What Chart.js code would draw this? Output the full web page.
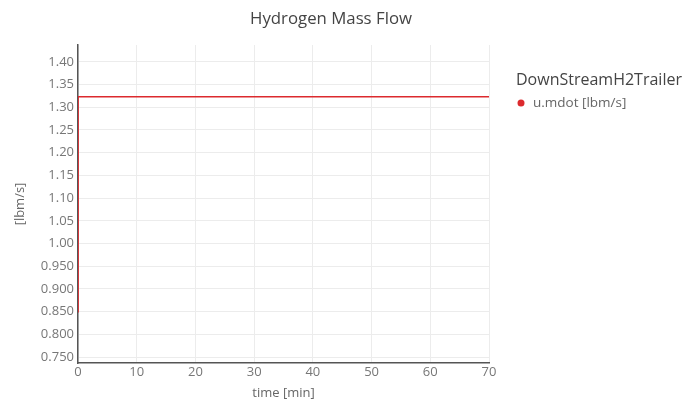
<!DOCTYPE html>
<html>
<head>
<meta charset="utf-8">
<script src="https://cdn.jsdelivr.net/npm/chart.js@4.4.1/dist/chart.umd.min.js"></script>
<style>
  html, body { margin: 0; padding: 0; background: #fff; }
  #wrap { width: 687px; height: 401px; position: relative; }
</style>
</head>
<body>
<div id="wrap"><canvas id="massFlow" width="687" height="401"></canvas></div>
<script>
"use strict";

// Data
const timeMin = [0, 0.02, 70];
const massFlow = [0.85, 1.323, 1.323];
const xTicks = [0, 10, 20, 30, 40, 50, 60, 70];
const yTicks = [0.75, 0.80, 0.85, 0.90, 0.95, 1.00, 1.05, 1.10, 1.15, 1.20, 1.25, 1.30, 1.35, 1.40];
const yTickLabels = ['0.750', '0.800', '0.850', '0.900', '0.950', '1.00', '1.05', '1.10', '1.15', '1.20', '1.25', '1.30', '1.35', '1.40'];

const chartTitle = 'Hydrogen Mass Flow';
const legendTitle = 'DownStreamH2Trailer';
const seriesLabel = 'u.mdot [lbm/s]';

const FONT = "'Open Sans', 'Noto Sans', sans-serif";
const RED = '#dc2a2e';

/**
 * Title and legend drawn by hand so they sit where the reference puts them
 */
const overlayPlugin = {
    id: 'overlay',
    afterDraw(chart) {
        const ctx = chart.ctx;
        const area = chart.chartArea;
        ctx.save();
        ctx.fillStyle = '#444';
        ctx.font = '16.8px ' + FONT;
        ctx.textAlign = 'center';
        ctx.textBaseline = 'middle';
        ctx.fillText(chartTitle, 331, 19);

        const lx = area.right + 27;
        ctx.textAlign = 'left';
        ctx.font = '16px ' + FONT;
        ctx.fillStyle = '#444';
        ctx.fillText(legendTitle, lx, 80);

        ctx.beginPath();
        ctx.arc(lx + 5, 103, 3.5, 0, Math.PI * 2);
        ctx.fillStyle = chart.data.datasets[0].borderColor;
        ctx.fill();

        ctx.font = '13.5px ' + FONT;
        ctx.fillStyle = '#666';
        ctx.fillText(chart.data.datasets[0].label, lx + 17, 103);
        ctx.restore();
    }
};

document.addEventListener('DOMContentLoaded', () => {
    const ctx = document.getElementById('massFlow').getContext('2d');

    new Chart(ctx, {
        type: 'line',
        data: {
            datasets: [{
                label: seriesLabel,
                data: timeMin.map((t, i) => ({ x: t, y: massFlow[i] })),
                borderColor: RED,
                backgroundColor: RED,
                borderWidth: 1.5,
                pointRadius: 0,
                tension: 0,
                fill: false
            }]
        },
        options: {
            responsive: false,
            animation: false,
            layout: { padding: { top: 45, right: 198, left: 0, bottom: 0 } },
            plugins: {
                legend: { display: false },
                title: { display: false },
                tooltip: { enabled: false }
            },
            scales: {
                x: {
                    type: 'linear',
                    min: 0,
                    max: 70,
                    afterBuildTicks: (scale) => { scale.ticks = xTicks.map(v => ({ value: v })); },
                    afterFit: (scale) => { scale.height = 38; },
                    ticks: {
                        color: '#777',
                        font: { family: FONT, size: 13 },
                        padding: 1,
                        maxRotation: 0
                    },
                    grid: { color: '#ececec', lineWidth: 1, drawTicks: false },
                    border: { color: '#555', width: 1.5 },
                    title: {
                        display: true,
                        text: 'time [min]',
                        color: '#666',
                        font: { family: FONT, size: 13 },
                        padding: { top: 0, bottom: 0 }
                    }
                },
                y: {
                    type: 'linear',
                    min: 0.737,
                    max: 1.437,
                    afterBuildTicks: (scale) => { scale.ticks = yTicks.map(v => ({ value: v })); },
                    afterFit: (scale) => { scale.width = 78; },
                    ticks: {
                        color: '#777',
                        font: { family: FONT, size: 13 },
                        padding: 4,
                        callback: (value) => {
                            const i = yTicks.findIndex(v => Math.abs(v - value) < 1e-6);
                            return i >= 0 ? yTickLabels[i] : '';
                        }
                    },
                    grid: { color: '#ececec', lineWidth: 1, drawTicks: false },
                    border: { color: '#555', width: 1.5 },
                    title: {
                        display: true,
                        text: '[lbm/s]',
                        color: '#666',
                        font: { family: FONT, size: 13 },
                        padding: { top: 12, bottom: 4 }
                    }
                }
            }
        },
        plugins: [overlayPlugin]
    });
});
</script>
</body>
</html>
